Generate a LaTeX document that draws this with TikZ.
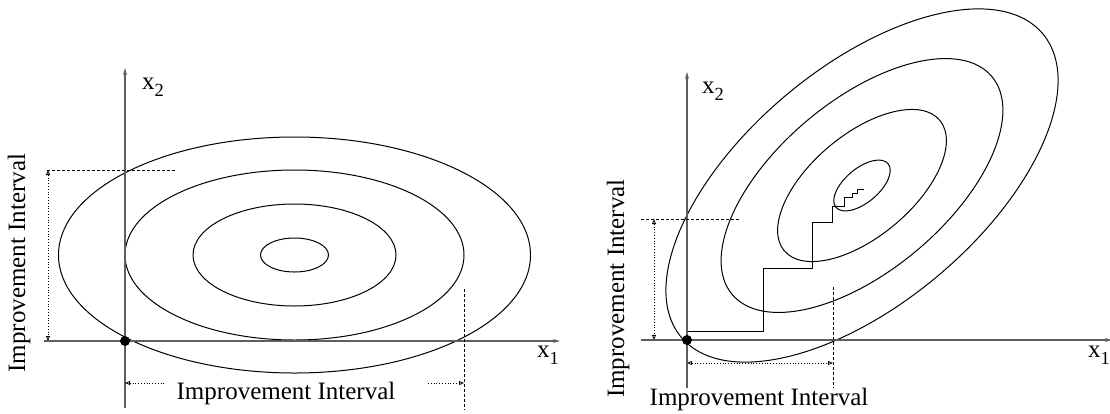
\documentclass[tikz,border=0pt]{standalone}
\usepackage{fontspec}
\setmainfont{Liberation Serif}
\usetikzlibrary{arrows.meta}
\definecolor{axisgray}{RGB}{95,95,95}
\newcommand{\lowsub}[1]{\raisebox{-0.3em}{\fontsize{18.5}{18.5}\selectfont #1}}
\tikzset{
  >=Stealth,
  iv/.tip={Triangle[open, length=5pt, width=4pt]},
  axisline/.style={-{Stealth[length=7pt, width=4pt]}, line width=1.4pt, axisgray},
  contour/.style={line width=1pt, black},
  guide/.style={dash pattern=on 3pt off 2pt, line width=0.8pt},
  interval/.style={dotted, line width=0.8pt},
  txt/.style={font=\fontsize{25}{30}\selectfont, inner sep=0pt}
}
\begin{document}
\begin{tikzpicture}[x=1pt, y=-1pt]
    \useasboundingbox (0,0) rectangle (1110,413);

    % left: contours along the axes
    \coordinate (cl) at (294.5,255);
    \foreach \a/\b in {236/118, 169.5/85, 101.5/51, 34/17}
        \draw[contour] (cl) ellipse [x radius=\a, y radius=\b];

    \coordinate (ol) at (125,341);
    \draw[axisline] (44,341) -- (560,341);
    \draw[axisline] (125,408) -- (125,68);
    \fill (ol) circle [radius=5];

    \node[txt, anchor=base west] (lx2) at (142,89) {x\lowsub{2}};
    \node[txt, anchor=base west] (lx1) at (537,357) {x\lowsub{1}};

    \coordinate (lyt) at (48,170);
    \coordinate (lyb) at (48,341);
    \draw[guide] (47,170) -- (175,170);
    \draw[interval, iv-iv] (lyt) -- (lyb);
    \node[txt, rotate=90] (lv) at (19,263) {Improvement Interval};

    \draw[guide] (464,289) -- (464,410);
    \coordinate (lxa) at (125,383);
    \coordinate (lxb) at (464,383);
    \node[txt, anchor=base] (lh) at (286,399) {Improvement Interval};
    \draw[interval, iv-] (lxa) -- (164,383);
    \draw[interval, -iv] (428,383) -- (lxb);

    % right: tilted contours
    \coordinate (cr) at (862,185.5);
    \foreach \a/\b in {236/118, 169.5/85, 101.5/51, 34/17}
        \draw[contour, rotate around={40:(cr)}] (cr) ellipse [x radius=\a, y radius=\b];

    \draw[contour] (687,331) -| (763,268) -| (812,222) -| (832,206) -| (844,197)
        -| (852,193) -| (857,189) -- (864,189);

    \coordinate (or) at (687,340);
    \draw[axisline] (641,340) -- (1112,340);
    \draw[axisline] (687,388) -- (687,72);
    \fill (or) circle [radius=5];

    \node[txt, anchor=base west] (rx2) at (702,93) {x\lowsub{2}};
    \node[txt, anchor=base west] (rx1) at (1088,357) {x\lowsub{1}};

    \coordinate (ryt) at (654,219);
    \coordinate (ryb) at (654,340);
    \draw[guide] (641,219) -- (740,219);
    \draw[interval, iv-iv] (ryt) -- (ryb);
    \node[txt, rotate=90] (rv) at (618,288.5) {Improvement Interval};

    \draw[guide] (833,287) -- (833,388);
    \coordinate (rxa) at (687,363);
    \coordinate (rxb) at (833,363);
    \draw[interval, iv-iv] (rxa) -- (rxb);
    \node[txt, anchor=base] (rh) at (759,405) {Improvement Interval};
\end{tikzpicture}
\end{document}
